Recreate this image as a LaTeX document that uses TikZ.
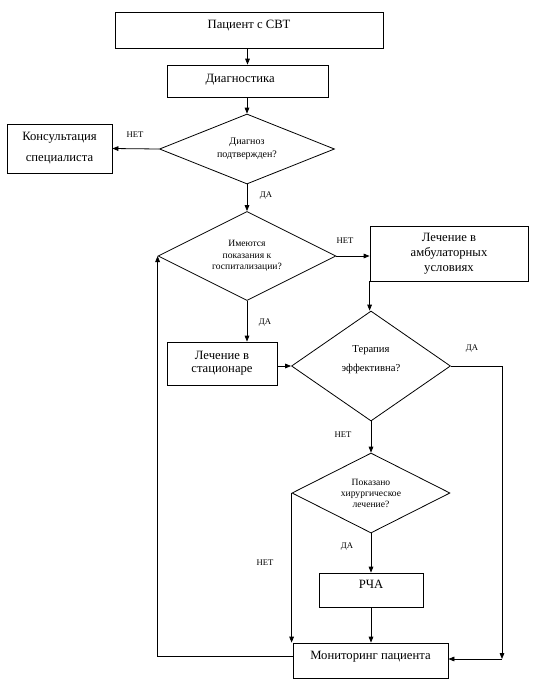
\documentclass[tikz,border=0pt]{standalone}
\usepackage{fontspec}
\setmainfont{Liberation Serif}
\usetikzlibrary{shapes.geometric,arrows.meta}
\newlength\unitpx
\setlength\unitpx{0.75pt}

\begin{document}
\begin{tikzpicture}[x=0.75pt, y=-0.75pt, line width=0.6pt,
	>={Triangle[length=4.5pt,width=3.5pt]},
	box/.style={draw, inner sep=0pt, font=\fontsize{9.5}{11.4}\selectfont},
	ask/.style={draw, diamond, inner sep=0pt, align=center},
	lifted/.style={text height=7pt, text depth=#1},
	answer/.style={inner sep=0pt, font=\fontsize{6.5}{7.8}\selectfont}]
		\useasboundingbox (0,0) rectangle (539,687);
		
		% Boxes
		\node[box, lifted=9pt, minimum width=268\unitpx, minimum height=36\unitpx] (pac) at (249,30) {Пациент с СВТ};
		\node[box, lifted=5pt, minimum width=161\unitpx, minimum height=32\unitpx] (diagn) at (247.5,81) {Диагностика\kern11pt};
		\node[box, align=center, font=\fontsize{9.5}{15.75}\selectfont, minimum width=105\unitpx, minimum height=49\unitpx] (cons) at (59.5,148.5) {Консультация\\специалиста};
		\node[box, align=center, font=\fontsize{9.5}{11.25}\selectfont, minimum width=158\unitpx, minimum height=55\unitpx] (amb) at (449,253.5) {Лечение в\\амбулаторных\\условиях};
		\node[box, align=center, font=\fontsize{9.5}{9.9}\selectfont, minimum width=110\unitpx, minimum height=43\unitpx] (stat) at (222,363.5) {Лечение в\\стационаре};
		\node[box, lifted=9.6pt, minimum width=104\unitpx, minimum height=34\unitpx] (rca) at (371,590) {РЧА};
		\node[box, lifted=8.8pt, minimum width=155\unitpx, minimum height=35\unitpx] (mon) at (370.5,660.5) {Мониторинг пациента};
		
		% Decisions
		\node[ask, aspect=2.5, font=\fontsize{7.5}{9.75}\selectfont, minimum width=175\unitpx, minimum height=70\unitpx] (conf) at (247,149) {Диагноз\\подтвержден?};
		\node[ask, aspect=2, font=\fontsize{7.2}{8.6}\selectfont, minimum width=178\unitpx, minimum height=89\unitpx] (hosp) at (247,256) {Имеются\\показания к\\госпитализации?};
		\node[ask, minimum width=159\unitpx, minimum height=110\unitpx,
			label={[align=center, font=\fontsize{8}{14.25}\selectfont, yshift=4.6pt]center:Терапия\\эффективна?}] (eff) at (371,366) {};
		\node[ask, aspect=2, font=\fontsize{7.2}{8.3}\selectfont, minimum width=158\unitpx, minimum height=80\unitpx] (surg) at (371,493) {Показано\\хирургическое\\лечение?};
		
		% Answers
		\node[answer] (no1) at (135,135) {НЕТ};
		\node[answer] (yes1) at (266,196) {ДА};
		\node[answer] (no2) at (345,241) {НЕТ};
		\node[answer] (yes2) at (265,323) {ДА};
		\node[answer] (yes3) at (472,349) {ДА};
		\node[answer] (no3) at (343,435) {НЕТ};
		\node[answer] (yes4) at (347,547) {ДА};
		\node[answer] (no4) at (265,563) {НЕТ};
		
		\coordinate (rt) at (502,659);
		\coordinate (lf) at (157,656);
		
		% Edges
		\draw[->] (diagn.north |- pac.south) -- (diagn.north);
		\draw[->] (conf.north |- diagn.south) -- (conf.north);
		\draw[->] (conf.west) -- (cons.east);
		\draw[->] (conf.south) -- (hosp.north);
		\draw[->] (hosp.east) -- (hosp.east -| amb.west);
		\draw[->] (hosp.south) -- (hosp.south |- stat.north);
		\draw[->] (amb.south west) -- (amb.south west |- eff.north);
		\draw[->] (stat.east |- eff.west) -- (eff.west);
		\draw[->] (eff.south) -- (surg.north);
		\draw[->] (surg.south) -- (rca.north);
		\draw[->] (rca.south) -- (rca.south |- mon.north);
		\draw[->] (surg.west) -- (surg.west |- mon.north);
		\draw[->] (eff.east) -| (rt);
		\draw[->] (rt) -- (rt -| mon.east);
		\draw[->] (mon.west |- lf) -| (hosp.west);
		
	\end{tikzpicture}
\end{document}
